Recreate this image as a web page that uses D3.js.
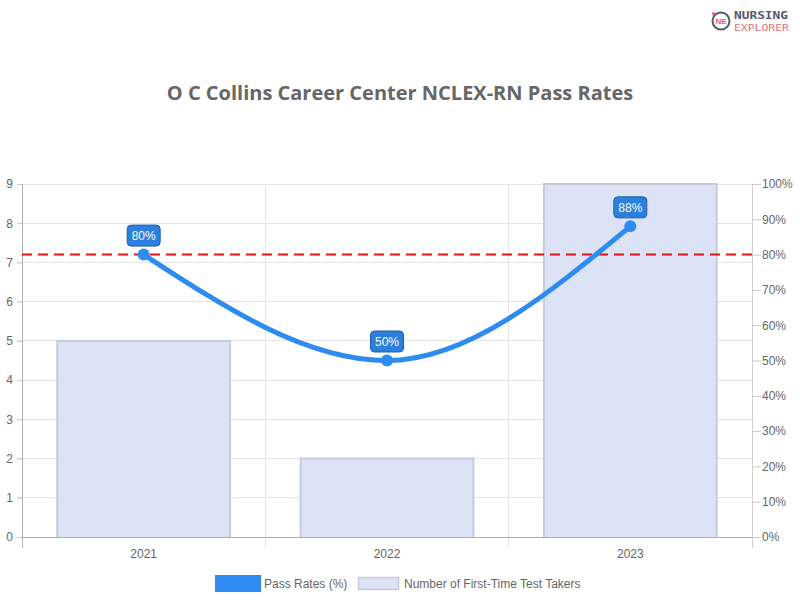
<!DOCTYPE html>
<html><head><meta charset="utf-8">
<script src="https://cdn.jsdelivr.net/npm/d3@7"></script>
<style>body{margin:0;background:#fff}svg{display:block}</style>
</head><body><svg id="c" width="800" height="600"></svg>
<script>
const categories = ["2021","2022","2023"];
const passRates = [80, 50, 88];
const testTakers = [5, 2, 9];
const leftTicks = [0,1,2,3,4,5,6,7,8,9];
const rightTicks = [0,10,20,30,40,50,60,70,80,90,100];
const benchmark = 80;
const titleText = "O C Collins Career Center NCLEX-RN Pass Rates";
const legendLabels = ["Pass Rates (%)", "Number of First-Time Test Takers"];

const svg = d3.select("#c");
const L = 22, R = 752, T = 184, B = 537;
const font = "Liberation Sans, Arial, sans-serif";

const x = d3.scaleBand().domain(categories).range([L, R]);
const yL = d3.scaleLinear().domain([0, 9]).range([B, T]);
const yR = d3.scaleLinear().domain([0, 100]).range([B, T]);

svg.append("g").selectAll("line").data(leftTicks).join("line")
  .attr("x1", L - 5).attr("x2", R).attr("y1", d => yL(d)).attr("y2", d => yL(d))
  .attr("stroke", "#e5e5e5").attr("stroke-width", 1).attr("shape-rendering","crispEdges");
const edges = categories.map(c => x(c)).concat([R]);
svg.append("g").selectAll("line").data(edges).join("line")
  .attr("x1", d => d).attr("x2", d => d).attr("y1", T).attr("y2", B + 11)
  .attr("stroke", "#e5e5e5").attr("shape-rendering","crispEdges");

const bw = x.bandwidth() * 0.71;
svg.append("g").selectAll("path").data(testTakers).join("path")
  .attr("d", (d, i) => {
    const cx = x(categories[i]) + x.bandwidth() / 2;
    const x0 = cx - bw / 2, x1 = cx + bw / 2, y0 = yL(d);
    return `M${x0},${B}V${y0}H${x1}V${B}`;
  })
  .attr("fill", "#dde3f6").attr("stroke", "#c6cbdc").attr("stroke-width", 2);

svg.append("line").attr("x1", L).attr("x2", L).attr("y1", T).attr("y2", B + 11).attr("stroke", "#b0b0b0").attr("shape-rendering","crispEdges");
svg.append("line").attr("x1", R).attr("x2", R).attr("y1", T).attr("y2", B + 11).attr("stroke", "#d0d0d0").attr("shape-rendering","crispEdges");
svg.append("line").attr("x1", L).attr("x2", R).attr("y1", B).attr("y2", B).attr("stroke", "#b0b0b0").attr("shape-rendering","crispEdges");

const gl = svg.append("g").attr("transform", `translate(${L},0)`)
  .call(d3.axisLeft(yL).tickValues(leftTicks).tickSize(5).tickPadding(4).tickFormat(d3.format("d")));
gl.select(".domain").remove();
gl.selectAll("line").attr("stroke", "#c8c8c8");
gl.selectAll("text").attr("fill", "#666").style("font", `12px ${font}`);

const gr = svg.append("g").attr("transform", `translate(${R},0)`)
  .call(d3.axisRight(yR).tickValues(rightTicks).tickSize(9).tickPadding(1).tickFormat(d => d + "%"));
gr.select(".domain").remove();
gr.selectAll("line").attr("stroke", "#c8c8c8");
gr.selectAll("text").attr("fill", "#666").style("font", `12px ${font}`);

const gb = svg.append("g").attr("transform", `translate(0,${B})`)
  .call(d3.axisBottom(x).tickSize(0).tickPadding(12));
gb.select(".domain").remove();
gb.selectAll("text").attr("fill", "#666").style("font", `12px ${font}`);

svg.append("line").attr("x1", L).attr("x2", R).attr("y1", yR(benchmark)).attr("y2", yR(benchmark))
  .attr("stroke", "#ee1111").attr("stroke-width", 2).attr("stroke-dasharray", "10,6");

const pts = passRates.map((v, i) => [x(categories[i]) + x.bandwidth() / 2, yR(v)]);
svg.append("path").attr("d", d3.line().curve(d3.curveMonotoneX)(pts))
  .attr("fill", "none").attr("stroke", "#2e8cf0").attr("stroke-width", 5).attr("stroke-linecap", "round");
svg.append("g").selectAll("circle").data(pts).join("circle")
  .attr("cx", d => d[0]).attr("cy", d => d[1]).attr("r", 6).attr("fill", "#2e8cf0");

const lg = svg.append("g").selectAll("g").data(passRates).join("g")
  .attr("transform", (d, i) => `translate(${pts[i][0]},${pts[i][1] - 19})`);
lg.append("rect").attr("x", -16.5).attr("y", -10.5).attr("width", 33).attr("height", 21).attr("rx", 4)
  .attr("fill", "#2a80dc").attr("stroke", "#1c5fae").attr("stroke-width", 1);
lg.append("text").text(d => d + "%").attr("text-anchor", "middle").attr("dy", "0.36em")
  .attr("fill", "#fff").style("font", `12px ${font}`);

svg.append("text").attr("x", 400).attr("y", 100).attr("text-anchor", "middle")
  .attr("fill", "#666").style("font", `bold 20px 'Open Sans', sans-serif`).text(titleText);

const leg = svg.append("g");
leg.append("rect").attr("x", 215).attr("y", 575).attr("width", 46).attr("height", 17).attr("fill", "#2e8cf0");
leg.append("text").attr("x", 264).attr("y", 588).attr("fill", "#666").style("font", `12px ${font}`).text(legendLabels[0]);
leg.append("rect").attr("x", 358.5).attr("y", 577.5).attr("width", 40).attr("height", 12).attr("fill", "#dde3f6").attr("stroke", "#c6cbdc").attr("stroke-width", 1.5);
leg.append("text").attr("x", 404).attr("y", 588).attr("fill", "#666").style("font", `12px ${font}`).text(legendLabels[1]);

const logo = svg.append("g").attr("transform", "translate(721,21)");
logo.append("circle").attr("r", 8.5).attr("fill", "none").attr("stroke", "#5a5a6a").attr("stroke-width", 2);
logo.append("text").attr("text-anchor", "middle").attr("dy", "0.35em").attr("fill", "#e05a6a")
  .style("font", `bold 8px ${font}`).text("NE");
logo.append("path").attr("d", "M-9,-9 L-5,-8 L-8,-4 Z").attr("fill", "#e05a6a");
svg.append("text").attr("x", 734).attr("y", 19).attr("fill", "#55596a")
  .attr("textLength", 54).attr("lengthAdjust", "spacingAndGlyphs")
  .style("font", `bold 10px 'DejaVu Sans Mono', monospace`).text("NURSING");
svg.append("text").attr("x", 734).attr("y", 30.5).attr("fill", "#e87080")
  .attr("textLength", 55).attr("lengthAdjust", "spacingAndGlyphs")
  .style("font", `9px 'DejaVu Sans Mono', monospace`).text("EXPLORER");
</script></body></html>
